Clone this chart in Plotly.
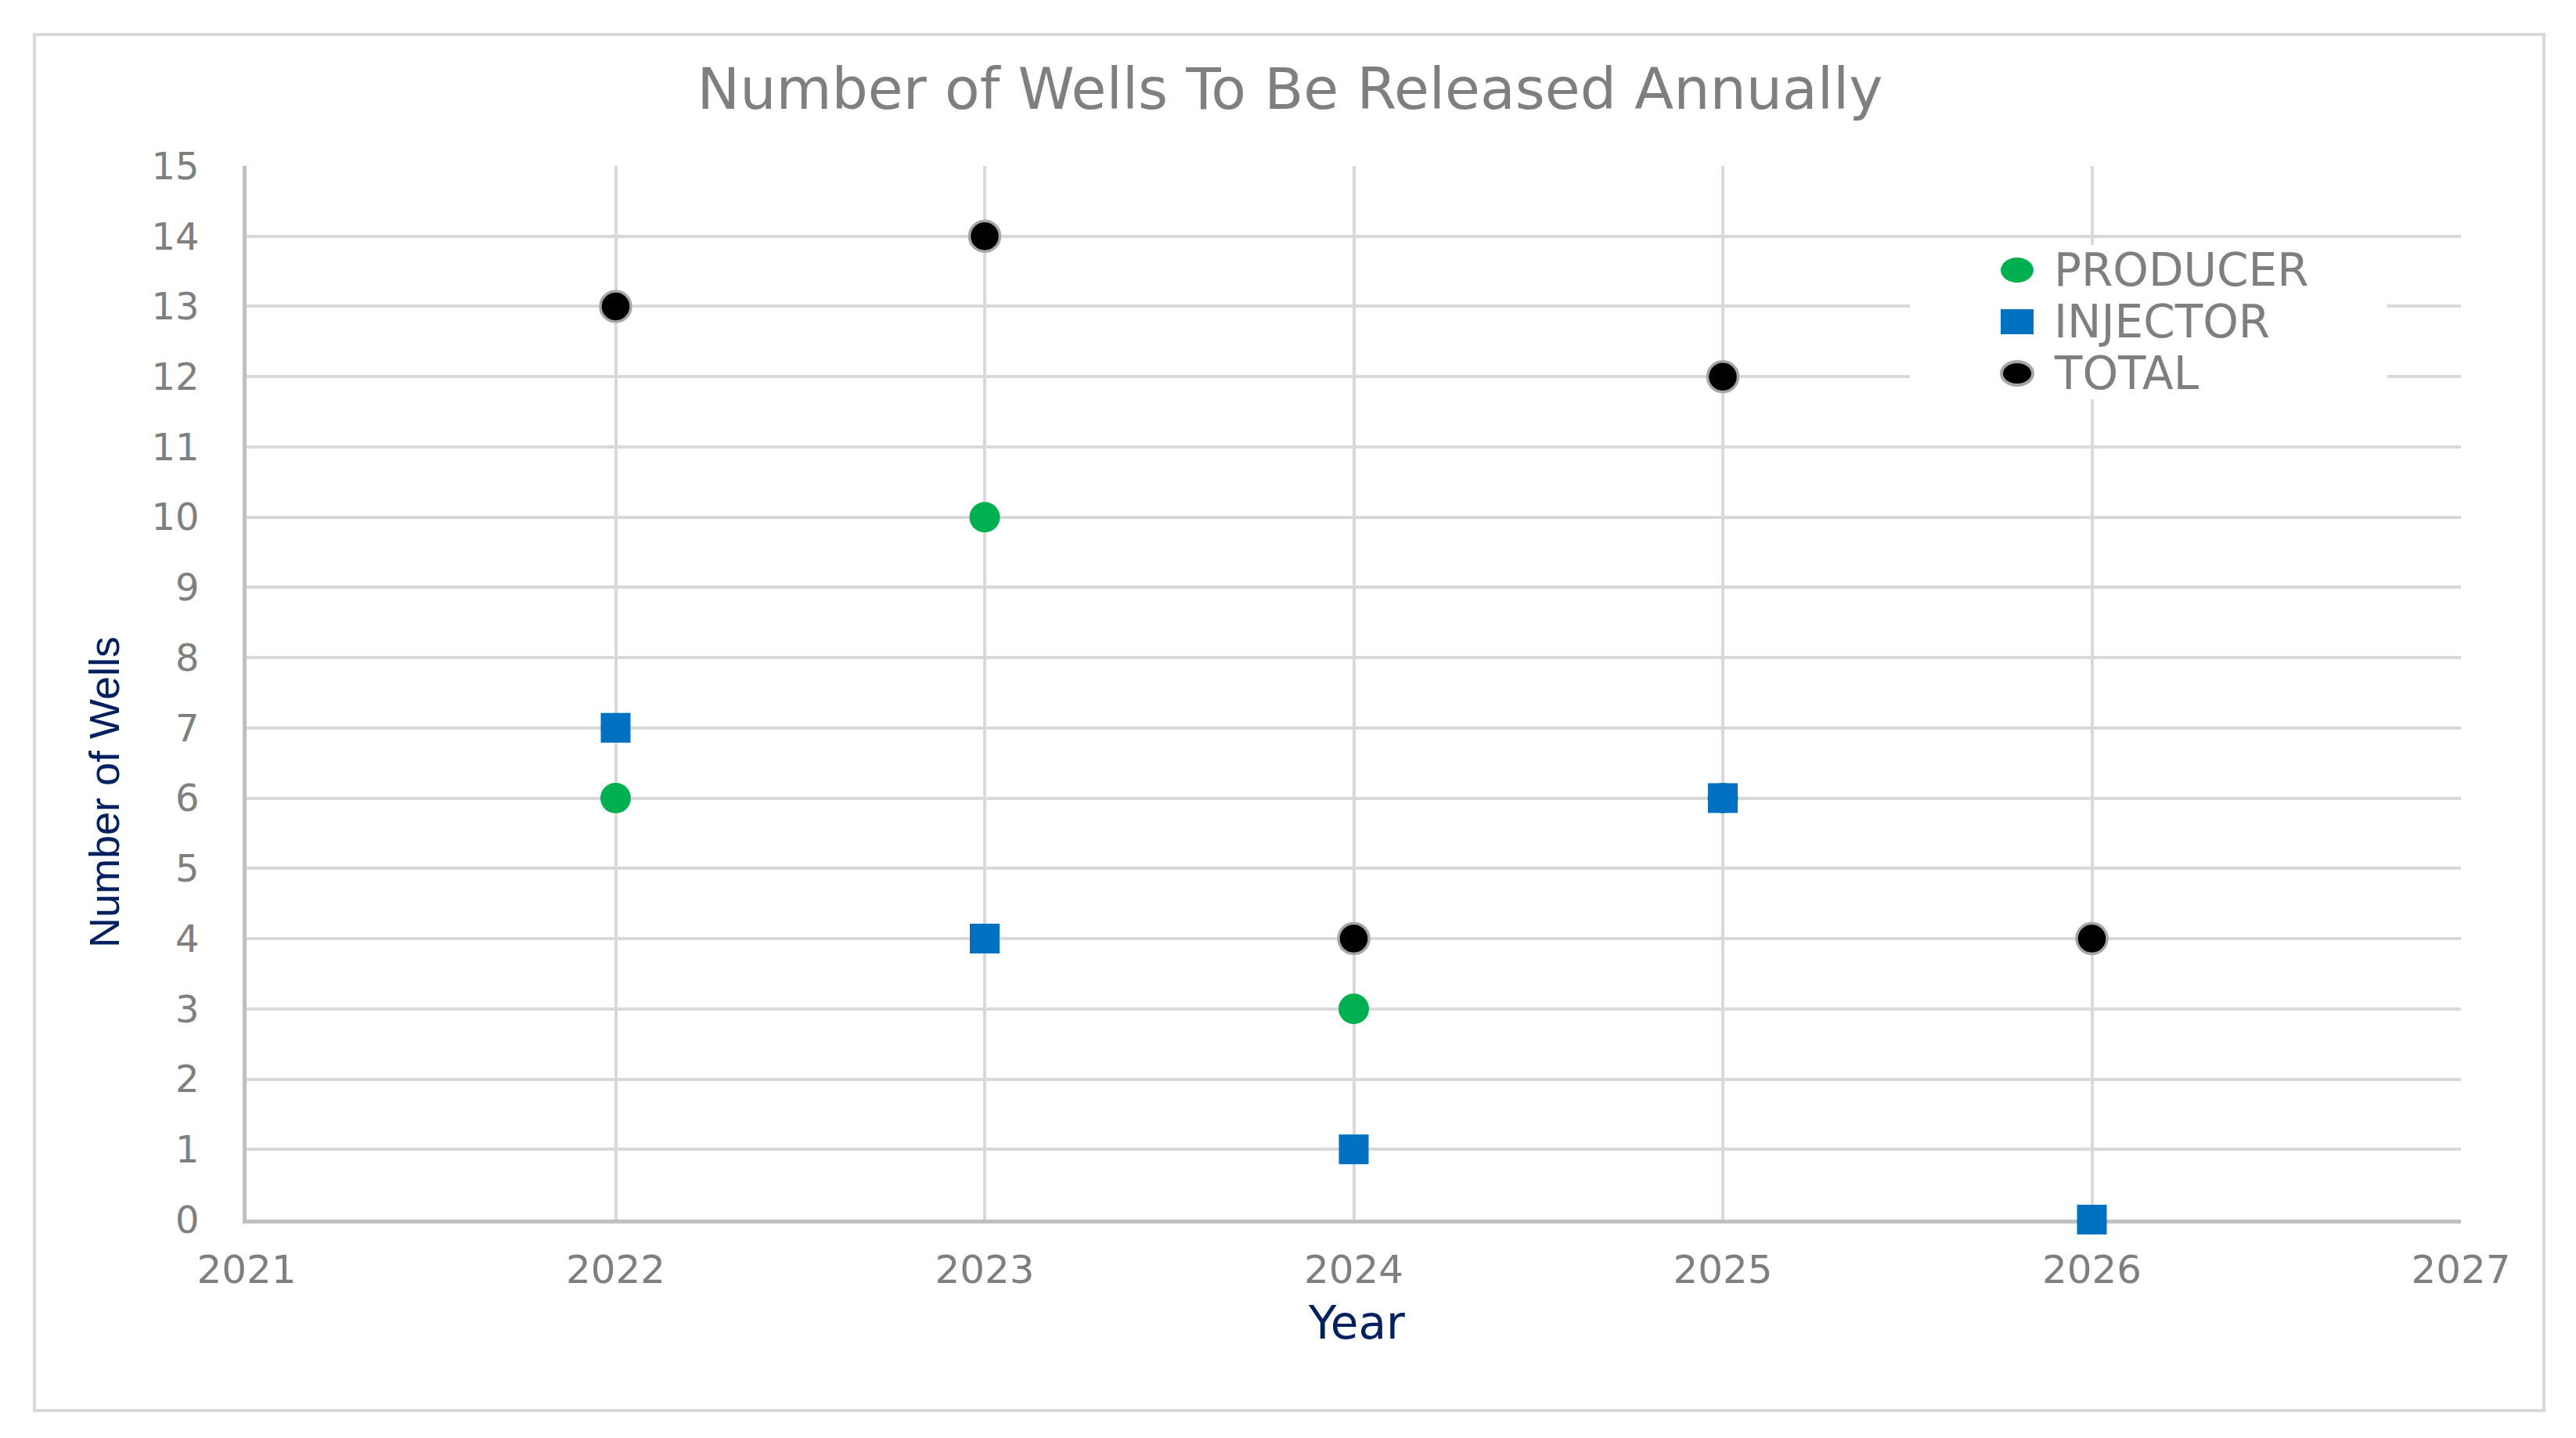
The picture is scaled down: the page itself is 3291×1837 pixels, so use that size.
import plotly.graph_objects as go

# ---- data ----
years = [2022, 2023, 2024, 2025, 2026]
producer = [6, 10, 3, 6, 4]
injector = [7, 4, 1, 6, 0]
total = [13, 14, 4, 12, 4]
series_names = ["PRODUCER", "INJECTOR", "TOTAL"]
x_ticks = [2021, 2022, 2023, 2024, 2025, 2026, 2027]
y_ticks = list(range(0, 16))

W, H = 3291, 1837
OFF = 8  # default page body margin
# plot area in screen pixels
SL, SR, ST, SB = 315, 3144, 212, 1558
L, R, T, B = SL - OFF, SR - OFF, ST - OFF, SB - OFF  # figure coords
PW, PH = R - L, B - T

def px(xs):
    return (xs - SL) / PW

def py(ys):
    return (SB - ys) / PH

GREEN = "#00B050"
BLUE = "#0070C0"
GRAY_TXT = "#7F7F7F"
NAVY = "#002060"
GRID = "#D9D9D9"
AXIS = "#BFBFBF"
FONT = "DejaVu Sans"

fig = go.Figure()
fig.add_trace(go.Scatter(x=years, y=producer, mode="markers", name=series_names[0],
                         marker=dict(symbol="circle", size=39, color=GREEN, line=dict(width=0)),
                         cliponaxis=False))
fig.add_trace(go.Scatter(x=years, y=injector, mode="markers", name=series_names[1],
                         marker=dict(symbol="square", size=38, color=BLUE, line=dict(width=0)),
                         cliponaxis=False))
fig.add_trace(go.Scatter(x=years, y=total, mode="markers", name=series_names[2],
                         marker=dict(symbol="circle", size=39, color="black",
                                     line=dict(width=3.5, color="#A6A6A6")),
                         cliponaxis=False))

shapes = []
# outer chart border
shapes.append(dict(type="rect", xref="paper", yref="paper",
                   x0=px(44), x1=px(3250), y0=py(1802), y1=py(44),
                   line=dict(color=GRID, width=4), fillcolor="rgba(0,0,0,0)", layer="below"))
# legend background box (covers gridlines)
shapes.append(dict(type="rect", xref="paper", yref="paper",
                   x0=px(2440), x1=px(3050), y0=py(510), y1=py(313),
                   line=dict(width=0), fillcolor="white", layer="above"))

annotations = []
# custom legend
row_y = [345, 411, 477]
mx, tx = 2577, 2622
for i, name in enumerate(series_names):
    yc = py(row_y[i])
    if i == 0:
        shapes.append(dict(type="circle", xref="paper", yref="paper",
                           xsizemode="pixel", ysizemode="pixel", xanchor=px(mx), yanchor=yc,
                           x0=-21, x1=21, y0=-16, y1=16, fillcolor=GREEN, line=dict(width=0)))
    elif i == 1:
        shapes.append(dict(type="rect", xref="paper", yref="paper",
                           xsizemode="pixel", ysizemode="pixel", xanchor=px(mx), yanchor=yc,
                           x0=-21, x1=21, y0=-16, y1=16, fillcolor=BLUE, line=dict(width=0)))
    else:
        shapes.append(dict(type="circle", xref="paper", yref="paper",
                           xsizemode="pixel", ysizemode="pixel", xanchor=px(mx), yanchor=yc,
                           x0=-20, x1=20, y0=-15, y1=15, fillcolor="black",
                           line=dict(width=4, color="#A6A6A6")))
    annotations.append(dict(text=name, xref="paper", yref="paper", x=px(tx), y=yc,
                            xanchor="left", yanchor="middle", showarrow=False,
                            font=dict(family=FONT, size=58, color=GRAY_TXT)))

# axis titles
annotations.append(dict(text="Year", xref="paper", yref="paper", x=px(1733), y=py(1690),
                        xanchor="center", yanchor="middle", showarrow=False,
                        font=dict(family=FONT, size=58, color=NAVY)))
annotations.append(dict(text="Number of Wells", xref="paper", yref="paper", x=px(133), y=py(1012),
                        xanchor="center", yanchor="middle", showarrow=False, textangle=-90,
                        font=dict(family="Liberation Sans", size=54, color=NAVY)))

fig.update_layout(
    width=W, height=H,
    margin=dict(l=L, r=W - R, t=T, b=H - B, autoexpand=False),
    paper_bgcolor="white", plot_bgcolor="white",
    showlegend=False,
    title=dict(text="Number of Wells To Be Released Annually", x=px(1648), xanchor="center",
               y=1 - (113 - OFF) / H, yanchor="middle", xref="paper",
               font=dict(family=FONT, size=73, color=GRAY_TXT)),
    shapes=shapes, annotations=annotations,
)
fig.update_xaxes(range=[2021, 2027], tickvals=x_ticks, ticktext=[str(v) for v in x_ticks],
                 showgrid=True, gridcolor=GRID, gridwidth=3.5,
                 showline=True, linecolor=AXIS, linewidth=4.5, zeroline=False,
                 ticks="", ticklabelstandoff=16, layer="below traces",
                 tickfont=dict(family=FONT, size=50, color=GRAY_TXT))
fig.update_yaxes(range=[0, 15], tickvals=y_ticks,
                 showgrid=True, gridcolor=GRID, gridwidth=3.5,
                 showline=True, linecolor=AXIS, linewidth=4.5, zeroline=False,
                 ticks="", ticklabelstandoff=46, layer="below traces",
                 tickfont=dict(family=FONT, size=48, color=GRAY_TXT))

fig.write_html("out.html")
